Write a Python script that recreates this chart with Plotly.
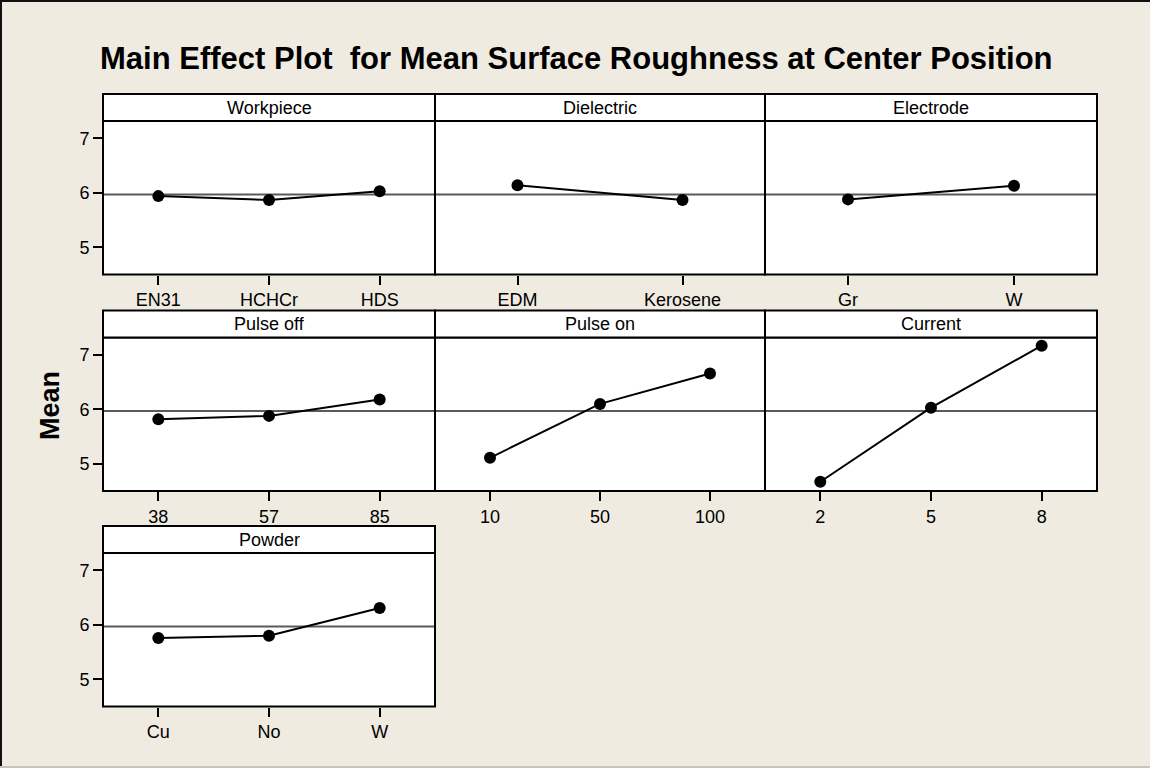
import plotly.graph_objects as go

# ---------------- data ----------------
factors = ["Workpiece", "Dielectric", "Electrode", "Pulse off", "Pulse on", "Current", "Powder"]
workpiece_levels = ["EN31", "HCHCr", "HDS"]
workpiece_means = [5.94, 5.87, 6.03]
dielectric_levels = ["EDM", "Kerosene"]
dielectric_means = [6.14, 5.87]
electrode_levels = ["Gr", "W"]
electrode_means = [5.88, 6.13]
pulse_off_levels = ["38", "57", "85"]
pulse_off_means = [5.82, 5.88, 6.18]
pulse_on_levels = ["10", "50", "100"]
pulse_on_means = [5.11, 6.10, 6.66]
current_levels = ["2", "5", "8"]
current_means = [4.67, 6.03, 7.17]
powder_levels = ["Cu", "No", "W"]
powder_means = [5.76, 5.80, 6.31]
grand_mean = 5.97
y_ticks = [5, 6, 7]

levels = [workpiece_levels, dielectric_levels, electrode_levels, pulse_off_levels,
          pulse_on_levels, current_levels, powder_levels]
means = [workpiece_means, dielectric_means, electrode_means, pulse_off_means,
         pulse_on_means, current_means, powder_means]

# ---------------- layout geometry (pixels) ----------------
W, H = 1150, 768
BG = "#EFEBE1"
FONT = "Arial, Liberation Sans, sans-serif"
col_x = [(103, 435), (435, 765), (765, 1097)]
row_strip_top = [94, 310.5, 526]
strip_h = 27
plot_h = 153.5
y_range = [4.5, 7.32]

def px_x(x):
    return x / W

def px_y(y):
    return 1 - y / H

fig = go.Figure()
shapes = []
annotations = []

for i, (fac, lev, mv) in enumerate(zip(factors, levels, means)):
    r, c = divmod(i, 3)
    x0, x1 = col_x[c]
    st = row_strip_top[r]
    ptop = st + strip_h
    pbot = ptop + plot_h
    n = i + 1
    xa = "x" if n == 1 else f"x{n}"
    ya = "y" if n == 1 else f"y{n}"
    fig.add_trace(go.Scatter(
        x=lev, y=mv, mode="lines+markers",
        line=dict(color="black", width=2),
        marker=dict(color="black", size=12),
        xaxis=xa, yaxis=ya, showlegend=False, cliponaxis=False,
    ))
    xkey = "xaxis" if n == 1 else f"xaxis{n}"
    ykey = "yaxis" if n == 1 else f"yaxis{n}"
    fig.layout[xkey] = dict(
        domain=[px_x(x0), px_x(x1)], anchor=ya, type="category",
        range=[-0.5, len(lev) - 0.5], showgrid=False, zeroline=False,
        showline=False,
        ticks="outside", ticklen=9, tickwidth=2, tickcolor="black",
        tickfont=dict(family=FONT, size=18, color="black"), fixedrange=True,
    )
    fig.layout[ykey] = dict(
        domain=[px_y(pbot), px_y(ptop)], anchor=xa, range=y_range,
        showgrid=False, zeroline=False, showline=False, tickvals=y_ticks,
        ticks="outside" if c == 0 else "", ticklen=9, tickwidth=2, tickcolor="black",
        showticklabels=(c == 0),
        tickfont=dict(family=FONT, size=18, color="black"), fixedrange=True,
    )
    # grand-mean reference line
    shapes.append(dict(type="line", xref=f"{xa} domain", yref=ya, x0=0, x1=1,
                       y0=grand_mean, y1=grand_mean,
                       line=dict(color="#5a5a5a", width=1.8), layer="below"))
    # panel frame
    shapes.append(dict(type="rect", xref=f"{xa} domain", yref=f"{ya} domain",
                       x0=0, x1=1, y0=0, y1=1,
                       line=dict(color="black", width=2)))
    # strip header
    shapes.append(dict(type="rect", xref="paper", yref="paper",
                       x0=px_x(x0), x1=px_x(x1), y0=px_y(ptop), y1=px_y(st),
                       fillcolor="white", line=dict(color="black", width=2)))
    annotations.append(dict(text=fac, xref="paper", yref="paper",
                            x=px_x((x0 + x1) / 2), y=px_y(st + strip_h / 2),
                            xanchor="center", yanchor="middle", showarrow=False,
                            font=dict(family=FONT, size=18, color="black")))

annotations.append(dict(text="<b>Main Effect Plot  for Mean Surface Roughness at Center Position</b>",
                        xref="paper", yref="paper", x=px_x(576), y=px_y(58),
                        xanchor="center", yanchor="middle", showarrow=False,
                        font=dict(family=FONT, size=31, color="black")))
annotations.append(dict(text="<b>Mean</b>", xref="paper", yref="paper",
                        x=px_x(50), y=px_y(406), xanchor="center", yanchor="middle",
                        textangle=-90, showarrow=False,
                        font=dict(family=FONT, size=27, color="black")))

# outer frame
shapes.append(dict(type="line", xref="paper", yref="paper", x0=0, x1=1,
                   y0=px_y(1), y1=px_y(1), line=dict(color="#111111", width=2)))
shapes.append(dict(type="line", xref="paper", yref="paper", x0=px_x(1), x1=px_x(1),
                   y0=0, y1=1, line=dict(color="#111111", width=2)))
shapes.append(dict(type="line", xref="paper", yref="paper", x0=0, x1=1,
                   y0=px_y(767), y1=px_y(767), line=dict(color="#c8c4bc", width=2)))

fig.update_layout(
    width=W, height=H, margin=dict(l=0, r=0, t=0, b=0),
    paper_bgcolor=BG, plot_bgcolor="white",
    shapes=shapes, annotations=annotations, showlegend=False,
)

fig.write_html("out.html", config={"displayModeBar": False})
